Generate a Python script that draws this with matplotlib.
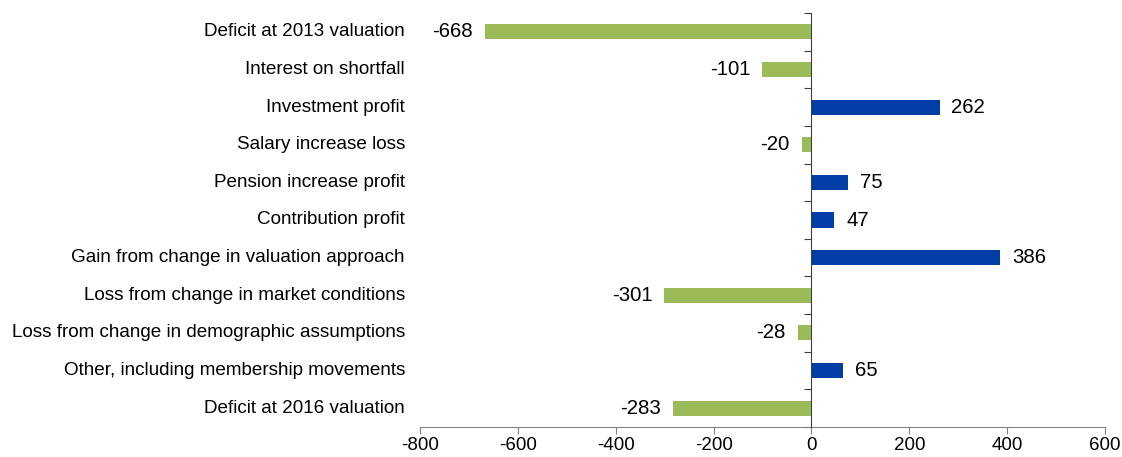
import matplotlib
matplotlib.use("Agg")
import matplotlib.pyplot as plt
from matplotlib.ticker import FixedLocator

categories = [
    "Deficit at 2013 valuation",
    "Interest on shortfall",
    "Investment profit",
    "Salary increase loss",
    "Pension increase profit",
    "Contribution profit",
    "Gain from change in valuation approach",
    "Loss from change in market conditions",
    "Loss from change in demographic assumptions",
    "Other, including membership movements",
    "Deficit at 2016 valuation",
]
values = [-668, -101, 262, -20, 75, 47, 386, -301, -28, 65, -283]
x_ticks = [-800, -600, -400, -200, 0, 200, 400, 600]

GREEN = "#9BBB59"
BLUE = "#003DA5"
AXIS = "#808080"

plt.rcParams["font.family"] = ["Liberation Sans", "DejaVu Sans"]

fig = plt.figure(figsize=(11.22, 4.57), dpi=100)
ax = fig.add_axes([420 / 1122, 30 / 457, 685 / 1122, 414 / 457])

ypos = list(range(len(categories)))
colors = [BLUE if v > 0 else GREEN for v in values]
ax.barh(ypos, values, height=0.4, color=colors, zorder=2)

ax.set_xlim(-800, 600)
ax.set_ylim(len(categories) - 0.5, -0.5)

for s in ["top", "right"]:
    ax.spines[s].set_visible(False)
ax.spines["left"].set_position(("data", 0))
ax.spines["left"].set_color("#404040")
ax.spines["left"].set_zorder(3)
ax.spines["bottom"].set_color(AXIS)

ax.set_xticks(x_ticks)
ax.set_xticklabels([str(t) for t in x_ticks], fontsize=13.5)
ax.tick_params(axis="x", length=5, color=AXIS, pad=2)

bounds = [i - 0.5 for i in range(len(categories) + 1)]
ax.yaxis.set_major_locator(FixedLocator(bounds))
ax.set_yticklabels([])
ax.tick_params(axis="y", length=5, color="#404040", direction="out")

for i, (c, v) in enumerate(zip(categories, values)):
    ax.text(-0.022, i, c, transform=ax.get_yaxis_transform(), ha="right",
            va="center", fontsize=13.6)
    off = 8.5 if v > 0 else -8.5
    ax.annotate(str(v), (v, i), xytext=(off, 0), textcoords="offset points",
                ha="left" if v > 0 else "right", va="center", fontsize=14.7)

fig.savefig("out.png", dpi=100)
